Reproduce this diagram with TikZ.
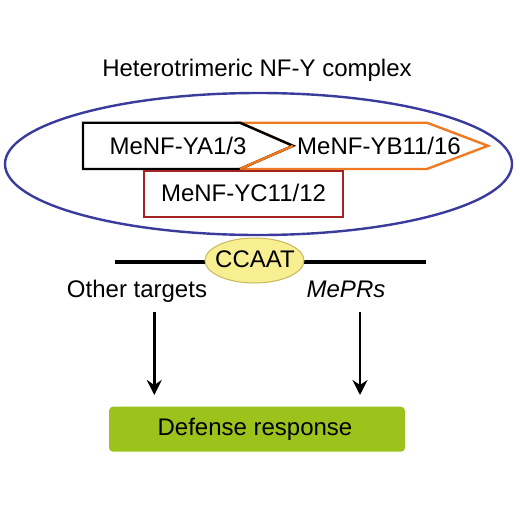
\documentclass[tikz,border=0pt]{standalone}
\usepackage{fontspec}
\setmainfont{Liberation Sans}
\usetikzlibrary{arrows.meta,shapes.geometric}
\definecolor{ellblue}{HTML}{3B3B9E}
\definecolor{ybor}{HTML}{F07A22}
\definecolor{ycred}{HTML}{A42424}
\definecolor{ccfill}{HTML}{F8EF92}
\definecolor{ccline}{HTML}{C9B75A}
\definecolor{dgreen}{HTML}{9BC31C}
\tikzset{
  lbl/.style={inner sep=0pt, anchor=base, font=\fontsize{24}{28}\selectfont, text=black},
  sub/.style={line width=2.4pt, line join=miter},
  arr/.style={line width=2.6pt, -{Stealth[length=15pt,width=15pt,inset=5pt]}},
}
\begin{document}
\begin{tikzpicture}[x=1pt,y=-1pt]
\useasboundingbox (0,0) rectangle (520,520);
\fill[white] (0,0) rectangle (520,520);
% title
\node[lbl] (title) at (257,76) {Heterotrimeric NF-Y complex};
% complex ellipse
\draw[ellblue, line width=2.4pt] (258.5,164) ellipse [x radius=253.5, y radius=71];
% subunits
\draw[sub, ybor] (240,122.7) -- (427,122.7) -- (488,145.8) -- (427,169) -- (240,169) -- (293,145.8) -- cycle;
\draw[sub, black] (83,122.7) -- (240,122.7) -- (293,145.8) -- (240,169) -- (83,169) -- cycle;
\draw[sub, ybor] (240,169) -- (293,145.8);
\draw[sub, ycred] (144,170.7) rectangle (342.7,216.7);
\node[lbl] (ya) at (178,154) {MeNF-YA1/3};
\node[lbl] (yb) at (379,154) {MeNF-YB11/16};
\node[lbl] (yc) at (243.5,201.7) {MeNF-YC11/12};
% DNA
\coordinate (dnaL) at (115,262);
\coordinate (dnaR) at (426,262);
\draw[line width=4pt] (dnaL) -- (dnaR);
\node[ellipse, fill=ccfill, draw=ccline, line width=1pt, minimum width=99pt, minimum height=45pt, inner sep=0pt] (cc) at (254.5,260.5) {};
\node[lbl] (cct) at (255,267) {CCAAT};
% targets
\node[lbl] (ot) at (137,297) {Other targets};
\node[lbl] (pr) at (346,297) {\itshape MePRs};
\coordinate (a1s) at (154.3,312);
\coordinate (a1e) at (154.3,395);
\coordinate (a2s) at (360,312);
\coordinate (a2e) at (360,395);
\draw[arr] (a1s) -- (a1e);
\draw[arr] (a2s) -- (a2e);
% defense
\node[fill=dgreen, rounded corners=4pt, minimum width=296pt, minimum height=45pt, inner sep=0pt] (def) at (257,429.2) {};
\node[lbl] (dt) at (255,435.5) {Defense response};
\end{tikzpicture}
\end{document}
